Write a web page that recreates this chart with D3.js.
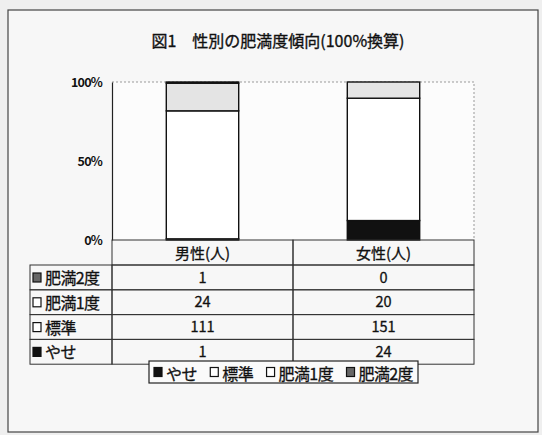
<!DOCTYPE html>
<html><head><meta charset="utf-8">
<script src="https://cdn.jsdelivr.net/npm/d3@7"></script>
<style>
html,body{margin:0;padding:0;background:#efefef;}
svg{display:block;}
text{font-family:"Noto Sans CJK JP","Noto Sans",sans-serif;fill:#111;}
</style></head>
<body>
<script>
const title = "図1　性別の肥満度傾向(100%換算)";
const categories = ["男性(人)", "女性(人)"];
const seriesNames = ["やせ", "標準", "肥満1度", "肥満2度"];
const yase = [1, 24];
const hyoujun = [111, 151];
const himan1 = [24, 20];
const himan2 = [1, 0];
const seriesValues = [yase, hyoujun, himan1, himan2];
const yTicks = [0, 0.5, 1];
const yTickLabels = ["0%", "50%", "100%"];
const seriesFill = ["#111111", "#ffffff", "#e4e4e4", "#6a6a6a"];
const markerFill = ["#111111", "#ffffff", "#ffffff", "#666666"];

const W = 542, H = 435;
const svg = d3.select("body").append("svg").attr("width", W).attr("height", H);

// outer frame
svg.append("rect").attr("x", 8).attr("y", 10).attr("width", 530).attr("height", 422)
  .attr("fill", "#f7f7f7").attr("stroke", "#444").attr("stroke-width", 1.2);

svg.append("text").attr("x", 278).attr("y", 47).attr("text-anchor", "middle")
  .attr("font-size", 16).attr("stroke", "#111").attr("stroke-width", 0.35).text(title);

const plotL = 112, plotR = 474, plotT = 82, plotB = 240;
const x = d3.scaleBand().domain(categories).range([plotL, plotR]).paddingInner(0.6).paddingOuter(0.3);
const xCol = d3.scaleBand().domain(categories).range([plotL, plotR]).padding(0);
const y = d3.scaleLinear().domain([0, 1]).range([plotB, plotT]);

// plot area
svg.append("rect").attr("x", plotL).attr("y", plotT).attr("width", plotR - plotL).attr("height", plotB - plotT)
  .attr("fill", "#fcfcfc");
svg.append("path").attr("d", `M${plotL},${plotT}H${plotR}V${plotB}`)
  .attr("fill", "none").attr("stroke", "#999").attr("stroke-dasharray", "2,2");

const rows = categories.map((c, i) => {
  const o = { cat: c };
  seriesNames.forEach((s, j) => o[s] = seriesValues[j][i]);
  return o;
});
const stack = d3.stack().keys(seriesNames).offset(d3.stackOffsetExpand);
const layers = stack(rows);

layers.forEach((layer, j) => {
  svg.append("g").selectAll("rect").data(layer).join("rect")
    .attr("x", d => x(d.data.cat))
    .attr("width", x.bandwidth())
    .attr("y", d => y(d[1]))
    .attr("height", d => Math.max(0, y(d[0]) - y(d[1])))
    .attr("fill", seriesFill[j])
    .attr("stroke", "#111").attr("stroke-width", 1.4);
});

// y axis
const yAxis = d3.axisLeft(y).tickValues(yTicks).tickFormat((d, i) => yTickLabels[i]).tickSize(0).tickPadding(10);
const ga = svg.append("g").attr("transform", `translate(${plotL},0)`).call(yAxis);
ga.select(".domain").attr("stroke", "#222").attr("stroke-width", 1.2);
ga.selectAll("text").attr("font-family", "'Liberation Sans Narrow','Liberation Sans',sans-serif")
  .attr("font-size", 12.5).attr("font-weight", "bold").attr("letter-spacing", -0.8).attr("fill", "#111");

// data table
const tableTop = plotB, headerH = 25, rowH = 24.8, labL = 30;
const tableRows = seriesNames.slice().reverse();
const tg = svg.append("g");
const lineC = "#333";
categories.forEach(c => {
  tg.append("rect").attr("x", xCol(c)).attr("y", tableTop).attr("width", xCol.bandwidth()).attr("height", headerH)
    .attr("fill", "none").attr("stroke", lineC).attr("stroke-width", 1);
  tg.append("text").attr("x", xCol(c) + xCol.bandwidth() / 2).attr("y", tableTop + 19)
    .attr("text-anchor", "middle").attr("font-size", 15).attr("stroke", "#111").attr("stroke-width", 0.3).text(c);
});
tableRows.forEach((s, r) => {
  const j = seriesNames.indexOf(s);
  const ry = tableTop + headerH + r * rowH;
  tg.append("rect").attr("x", labL).attr("y", ry).attr("width", plotL - labL).attr("height", rowH)
    .attr("fill", "none").attr("stroke", lineC);
  tg.append("rect").attr("x", labL + 3).attr("y", ry + 8).attr("width", 8).attr("height", 9)
    .attr("fill", markerFill[j]).attr("stroke", "#111").attr("stroke-width", 1.2);
  tg.append("text").attr("x", labL + 15).attr("y", ry + 19).attr("font-size", 16)
    .attr("letter-spacing", -0.6).attr("stroke", "#111").attr("stroke-width", 0.3).text(s);
  categories.forEach((c, i) => {
    tg.append("rect").attr("x", xCol(c)).attr("y", ry).attr("width", xCol.bandwidth()).attr("height", rowH)
      .attr("fill", "none").attr("stroke", lineC);
    tg.append("text").attr("x", xCol(c) + xCol.bandwidth() / 2).attr("y", ry + 17.5)
      .attr("text-anchor", "middle").attr("font-size", 14.5).attr("stroke", "#111").attr("stroke-width", 0.3)
      .text(seriesValues[j][i]);
  });
});

// legend
const lg = svg.append("g");
const legX = 149, legY = 361, legW = 269, legH = 22;
lg.append("rect").attr("x", legX).attr("y", legY).attr("width", legW).attr("height", legH)
  .attr("fill", "#fafafa").attr("stroke", "#222").attr("stroke-width", 1.2);
const items = seriesNames.map((s, j) => {
  const g = lg.append("g");
  g.append("rect").attr("x", 0).attr("y", -12).attr("width", 8).attr("height", 9)
    .attr("fill", markerFill[j]).attr("stroke", "#111").attr("stroke-width", 1.2);
  const t = g.append("text").attr("x", 12).attr("y", 0).attr("font-size", 16)
    .attr("letter-spacing", -0.6).attr("stroke", "#111").attr("stroke-width", 0.3).text(s);
  return { g, w: 12 + t.node().getComputedTextLength() };
});
const totalW = d3.sum(items, d => d.w);
const gap = (legW - 10 - totalW) / (items.length - 1);
let lx = legX + 5;
items.forEach(it => {
  it.g.attr("transform", `translate(${lx},${legY + 18.5})`);
  lx += it.w + gap;
});
</script>
</body></html>
